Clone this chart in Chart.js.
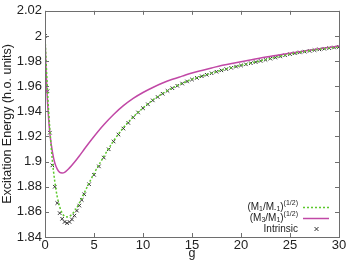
<!DOCTYPE html>
<html>
<head>
<meta charset="utf-8">
<script src="https://cdn.jsdelivr.net/npm/chart.js@4"></script>
<style>
  html, body { margin: 0; padding: 0; background: #fff; }
  #wrap { width: 350px; height: 265px; }
</style>
</head>
<body>
<div id="wrap"><canvas id="chart"></canvas></div>
<script>
// axis ticks and titles
const xTicks = [0, 5, 10, 15, 20, 25, 30];
const yTicks = [1.84, 1.86, 1.88, 1.90, 1.92, 1.94, 1.96, 1.98, 2.00, 2.02];
const xTitle = 'g';
const yTitle = 'Excitation Energy (h.o. units)';

// Intrinsic (crosses)
const gIntr = [0, 0.25, 0.5, 0.75, 1, 1.25, 1.5, 1.75, 2, 2.25, 2.5, 2.75, 3, 3.25, 3.5, 3.75, 4,
    4.5, 5, 5.5, 6, 6.5, 7, 7.5, 8, 8.5, 9, 9.5, 10, 10.5, 11, 11.5, 12, 12.5, 13, 13.5, 14, 14.5,
    15, 15.5, 16, 16.5, 17, 17.5, 18, 18.5, 19, 19.5, 20, 20.5, 21, 21.5, 22, 22.5, 23, 23.5, 24, 24.5,
    25, 25.5, 26, 26.5, 27, 27.5, 28, 28.5, 29, 29.5, 30];
const eIntr = [2.000, 1.956, 1.923, 1.897, 1.880, 1.867, 1.859, 1.8545, 1.852, 1.851, 1.852, 1.854, 1.857, 1.861, 1.865, 1.8695, 1.874,
    1.882, 1.8895, 1.8962, 1.9032, 1.9098, 1.916, 1.9215, 1.9263, 1.9308, 1.9352, 1.9391, 1.9425, 1.9456, 1.9487, 1.9514, 1.954, 1.9563, 1.9584, 1.9603, 1.9621, 1.9638,
    1.9653, 1.9666, 1.9679, 1.9691, 1.9703, 1.9715, 1.9726, 1.9736, 1.9746, 1.9756, 1.9765, 1.9774, 1.9783, 1.9792, 1.9801, 1.981, 1.9819, 1.9828, 1.9837, 1.9846,
    1.9855, 1.9862, 1.9869, 1.9875, 1.9881, 1.9887, 1.9893, 1.9898, 1.9903, 1.9908, 1.9912];

// (M1/M-1)^(1/2), green dotted
const gM1 = [0, 0.25, 0.5, 0.75, 1, 1.25, 1.5, 1.75, 2, 2.25, 2.5, 2.75, 3, 3.5, 4, 4.5, 5, 6, 7, 8, 9, 10,
    11, 12, 13, 14, 15, 16, 17, 18, 19, 20, 22, 24, 26, 28, 30];
const eM1 = [2.000, 1.957, 1.925, 1.901, 1.884, 1.872, 1.864, 1.859, 1.8565, 1.856, 1.8565, 1.858, 1.8605, 1.867, 1.875, 1.883, 1.8905, 1.904, 1.9165, 1.927, 1.9355, 1.9427,
    1.949, 1.9542, 1.9586, 1.9623, 1.9655, 1.968, 1.9704, 1.9727, 1.9747, 1.9766, 1.9802, 1.9838, 1.987, 1.9894, 1.9912];

// (M3/M1)^(1/2), magenta solid
const gM3 = [0, 0.1, 0.2, 0.3, 0.4, 0.5, 0.75, 1, 1.25, 1.5, 1.75, 2, 2.5, 3, 3.5, 4, 4.5, 5, 6, 7, 8, 9, 10,
    11, 12, 13, 14, 15, 16, 17, 18, 20, 22, 24, 26, 28, 30];
const eM3 = [2.000, 1.975, 1.956, 1.942, 1.931, 1.922, 1.908, 1.899, 1.894, 1.8915, 1.891, 1.8915, 1.895, 1.8995, 1.9045, 1.9098, 1.915, 1.920, 1.9293, 1.9375, 1.9445, 1.9503, 1.955,
    1.959, 1.9625, 1.9655, 1.968, 1.9705, 1.9725, 1.9745, 1.9765, 1.9795, 1.9825, 1.985, 1.9875, 1.9898, 1.992];

const green = '#5cc82c';
const magenta = '#c148a6';
const crossCol = '#333333';
const fontFam = '"Liberation Sans", Arial, sans-serif';

function pts(xs, ys) {
    return xs.map((x, i) => ({ x: x, y: ys[i] }));
}

// frame with inward ticks on all four sides, like gnuplot, plus axis titles
const framePlugin = {
    id: 'frame',
    afterDatasetsDraw(chart) {
        const ctx = chart.ctx;
        const a = chart.chartArea;
        const xs = chart.scales.x, ys = chart.scales.y;
        ctx.save();
        ctx.strokeStyle = '#6e6e6e';
        ctx.lineWidth = 1;
        ctx.beginPath();
        xTicks.forEach(v => {
            const px = Math.round(xs.getPixelForValue(v)) + 0.5;
            ctx.moveTo(px, a.bottom); ctx.lineTo(px, a.bottom - 4);
            ctx.moveTo(px, a.top); ctx.lineTo(px, a.top + 4);
        });
        yTicks.forEach(v => {
            const py = Math.round(ys.getPixelForValue(v)) + 0.5;
            ctx.moveTo(a.left, py); ctx.lineTo(a.left + 4, py);
            ctx.moveTo(a.right, py); ctx.lineTo(a.right - 4, py);
        });
        ctx.stroke();
        ctx.strokeRect(Math.round(a.left) + 0.5, Math.round(a.top) + 0.5,
            Math.round(a.right - a.left), Math.round(a.bottom - a.top));

        // axis titles
        ctx.fillStyle = '#222';
        ctx.font = '12.5px ' + fontFam;
        ctx.textAlign = 'center';
        ctx.textBaseline = 'alphabetic';
        ctx.fillText(xTitle, (a.left + a.right) / 2, 257);
        ctx.textBaseline = 'middle';
        ctx.translate(8, (a.top + a.bottom) / 2);
        ctx.rotate(-Math.PI / 2);
        ctx.fillText(yTitle, 0, 0);
        ctx.restore();
    }
};

// legend with sub/superscripts, right aligned inside the plot
function drawRich(ctx, parts, xRight, y) {
    const base = 10, small = 7;
    let w = 0;
    parts.forEach(p => {
        ctx.font = (p.s ? small : base) + 'px ' + fontFam;
        p.w = ctx.measureText(p.t).width;
        w += p.w;
    });
    let x = xRight - w;
    parts.forEach(p => {
        ctx.font = (p.s ? small : base) + 'px ' + fontFam;
        const dy = p.s === 'sub' ? 2.5 : (p.s === 'sup' ? -3.5 : 0);
        ctx.fillText(p.t, x, y + dy);
        x += p.w;
    });
}

const legendPlugin = {
    id: 'richLegend',
    afterDraw(chart) {
        const ctx = chart.ctx;
        ctx.save();
        ctx.fillStyle = '#222';
        ctx.textBaseline = 'middle';
        ctx.textAlign = 'left';
        const xr = 298;
        drawRich(ctx, [{ t: '(M' }, { t: '1', s: 'sub' }, { t: '/M' }, { t: '-1', s: 'sub' }, { t: ')' }, { t: '(1/2)', s: 'sup' }], xr, 207);
        drawRich(ctx, [{ t: '(M' }, { t: '3', s: 'sub' }, { t: '/M' }, { t: '1', s: 'sub' }, { t: ')' }, { t: '(1/2)', s: 'sup' }], xr, 218);
        drawRich(ctx, [{ t: 'Intrinsic' }], xr, 229);

        ctx.lineWidth = 1.5;
        ctx.strokeStyle = green;
        ctx.setLineDash([2, 2]);
        ctx.beginPath(); ctx.moveTo(303, 207.5); ctx.lineTo(329, 207.5); ctx.stroke();
        ctx.setLineDash([]);
        ctx.strokeStyle = magenta;
        ctx.beginPath(); ctx.moveTo(303, 218.5); ctx.lineTo(329, 218.5); ctx.stroke();
        ctx.strokeStyle = crossCol;
        ctx.lineWidth = 1;
        ctx.beginPath();
        ctx.moveTo(314.5, 227); ctx.lineTo(318.5, 231);
        ctx.moveTo(318.5, 227); ctx.lineTo(314.5, 231);
        ctx.stroke();
        ctx.restore();
    }
};

const tickFont = { family: fontFam, size: 13 };

new Chart(document.getElementById('chart'), {
    type: 'scatter',
    data: {
        datasets: [
            {
                label: 'M1',
                data: pts(gM1, eM1),
                showLine: true,
                borderColor: green,
                borderWidth: 1.5,
                borderDash: [2, 2],
                pointRadius: 0,
                cubicInterpolationMode: 'monotone'
            },
            {
                label: 'M3',
                data: pts(gM3, eM3),
                showLine: true,
                borderColor: magenta,
                borderWidth: 1.5,
                pointRadius: 0,
                cubicInterpolationMode: 'monotone'
            },
            {
                label: 'Intrinsic',
                data: pts(gIntr, eIntr),
                showLine: false,
                pointStyle: 'crossRot',
                pointRadius: 2.5,
                borderColor: crossCol,
                borderWidth: 1
            }
        ]
    },
    options: {
        responsive: true,
        maintainAspectRatio: false,
        animation: false,
        layout: { padding: { top: 6, right: 11, left: 0, bottom: 0 } },
        plugins: {
            legend: { display: false },
            tooltip: { enabled: false }
        },
        scales: {
            x: {
                type: 'linear',
                min: 0,
                max: 30,
                afterBuildTicks: s => { s.ticks = xTicks.map(v => ({ value: v })); },
                afterFit: s => { s.height = 28; },
                grid: { display: false, drawTicks: false },
                border: { display: false },
                ticks: { font: tickFont, color: '#222', padding: 1, maxRotation: 0 }
            },
            y: {
                type: 'linear',
                min: 1.84,
                max: 2.02,
                afterBuildTicks: s => { s.ticks = yTicks.map(v => ({ value: v })); },
                afterFit: s => { s.width = 45; },
                grid: { display: false, drawTicks: false },
                border: { display: false },
                ticks: {
                    font: tickFont, color: '#222', padding: 3,
                    callback: v => String(parseFloat(v.toFixed(2)))
                }
            }
        }
    },
    plugins: [framePlugin, legendPlugin]
});
</script>
</body>
</html>
